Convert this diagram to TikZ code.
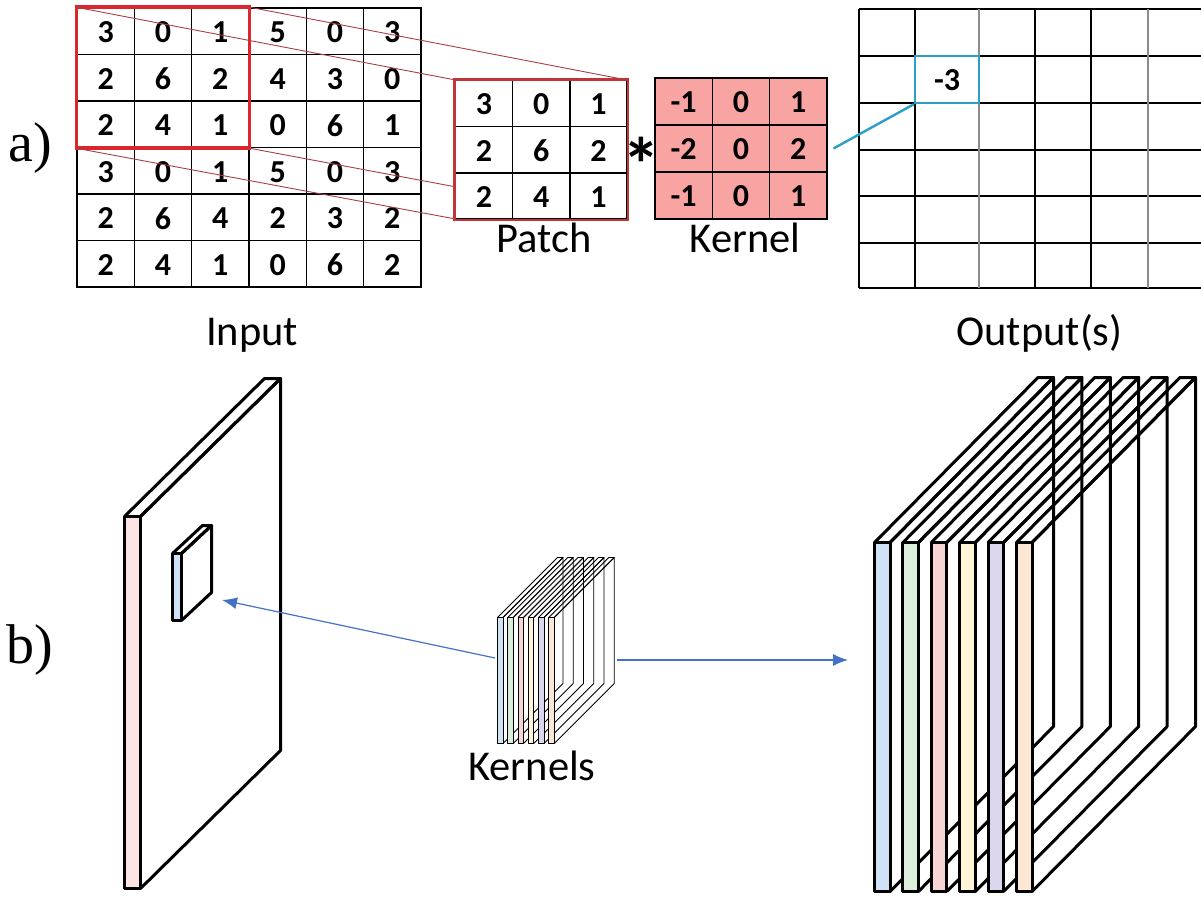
\documentclass[tikz,border=0pt]{standalone}
\usepackage{fontspec}
\setmainfont{Carlito}
\newfontfamily\panelfont{Liberation Serif}
\usetikzlibrary{arrows.meta}

\definecolor{boxred}{RGB}{218,38,44}
\definecolor{patchred}{RGB}{192,52,58}
\definecolor{projred}{RGB}{168,62,72}
\definecolor{kernfill}{RGB}{248,164,162}
\definecolor{resblue}{RGB}{44,158,200}
\definecolor{arrowblue}{RGB}{68,114,196}
\definecolor{gridgray}{RGB}{140,140,140}
\definecolor{inpink}{RGB}{252,228,228}
\definecolor{sblue}{RGB}{208,226,246}
\definecolor{sgreen}{RGB}{221,237,219}
\definecolor{spink}{RGB}{246,213,213}
\definecolor{syellow}{RGB}{255,244,214}
\definecolor{slav}{RGB}{220,215,236}
\definecolor{speach}{RGB}{251,231,211}

% slab: front strip at x #1 (width #4) from y #2 to #3, depth offset (#5,-#6)
\newcommand{\slabdraw}[8]{%
  \draw[line width=#8, line join=round]
    ({#1+#4},{#2}) -- ({#1+#4+#5},{#2-#6}) -- ({#1+#4+#5},{#3-#6}) -- ({#1+#4},{#3});
  \draw[line width=#8, line join=round]
    (#1,#2) -- ({#1+#5},{#2-#6}) -- ({#1+#4+#5},{#2-#6}) -- ({#1+#4},#2);
  \filldraw[fill=#7, line width=#8, line join=round] (#1,#2) rectangle ({#1+#4},#3);
}

\begin{document}
\begin{tikzpicture}[x=1pt,y=-1pt,
  digit/.style={font=\fontsize{32}{36}\selectfont\bfseries, inner sep=0pt, text depth=0pt},
  incell/.style={digit, draw, line width=1.5pt, minimum width=57.33pt, minimum height=46.5pt},
  patchcell/.style={digit, draw, fill=white, line width=1.5pt, minimum width=57.2pt, minimum height=46.4pt},
  kerncell/.style={digit, draw, fill=kernfill, line width=1.2pt, minimum width=57.3pt, minimum height=47pt},
  caption/.style={font=\fontsize{42.5}{50}\selectfont, inner sep=0pt, anchor=base},
  panel/.style={font=\panelfont\fontsize{56}{60}\selectfont, inner sep=0pt, anchor=base},
  proj/.style={draw=projred, line width=0.9pt},
  gridline/.style={line width=1.8pt},
  flow/.style={draw=arrowblue, line width=1.2pt, -{Latex[length=15pt,width=12pt]}}]
\useasboundingbox (0,0) rectangle (1201,901);

% ---- a) input grid ----
\foreach \row [count=\r from 0] in {{3,0,1,5,0,3},{2,6,2,4,3,0},{2,4,1,0,6,1},{3,0,1,5,0,3},{2,6,4,2,3,2},{2,4,1,0,6,2}} {
  \foreach \v [count=\c from 0] in \row {
    \node[incell] (in-\r-\c) at ({77+(\c+0.5)*57.33},{8+(\r+0.5)*46.5}) {\raisebox{-2pt}{\v}};
  }
}
\draw[boxred, line width=3.5pt] (in-0-0.north west) rectangle (in-2-2.south east);

% ---- projection lines to the patch ----
\coordinate (pTL) at (455.5,80);
\coordinate (pTR) at (627,80);
\coordinate (pBL) at (455.5,219);
\coordinate (pBR) at (627,219);
\draw[proj] (in-0-0.north west) -- (pTL);
\draw[proj] (in-0-2.north east) -- (pTR);
\draw[proj] (in-2-0.south west) -- (pBL);
\draw[proj] (in-2-2.south east) -- (pBR);

% ---- patch ----
\foreach \row [count=\r from 0] in {{3,0,1},{2,6,2},{2,4,1}} {
  \foreach \v [count=\c from 0] in \row {
    \node[patchcell] (pa-\r-\c) at ({455.5+(\c+0.5)*57.2},{80+(\r+0.5)*46.4}) {\raisebox{-2pt}{\v}};
  }
}
\draw[patchred, line width=2.6pt] (pa-0-0.north west) rectangle (pa-2-2.south east);

% ---- kernel ----
\foreach \row [count=\r from 0] in {{-1,0,1},{-2,0,2},{-1,0,1}} {
  \foreach \v [count=\c from 0] in \row {
    \node[kerncell] (ke-\r-\c) at ({655+(\c+0.5)*57.3},{78+(\r+0.5)*47}) {\raisebox{-2pt}{\v}};
  }
}
\node[font=\fontsize{76}{80}\selectfont\bfseries, inner sep=0pt, anchor=base] (star) at (641,192) {*};

% ---- output grid ----
\foreach \y in {9,56,103,150,196,243,288} \draw[gridline] (859,\y) -- (1201,\y);
\foreach \x in {859,915,1035,1091} \draw[line width=1.5pt] (\x,9) -- (\x,288);
\foreach \x in {979,1148} \draw[line width=1.5pt, gridgray] (\x,9) -- (\x,288);
\node[digit, draw=resblue, line width=2.6pt, minimum width=64pt, minimum height=47pt] (res) at (947,79.5) {\raisebox{-2pt}{-3}};
\draw[resblue, line width=2.4pt] ([xshift=6pt]ke-1-2.east) -- (res.south west);

% ---- captions ----
\node[caption] (lbl-patch) at (544,253) {Patch};
\node[caption] (lbl-kernel) at (745,253) {Kernel};
\node[caption] (lbl-input) at (252,345) {Input};
\node[caption] (lbl-output) at (1039.5,345) {Output(s)};
\node[caption] (lbl-kernels) at (532,780) {Kernels};
\node[panel] (lbl-a) at (30,162) {a)};
\node[panel] (lbl-b) at (30,663) {b)};

% ---- b) input volume with its receptive box ----
\slabdraw{124.5}{516.5}{888.5}{16}{140}{138}{inpink}{3pt}
\slabdraw{172.5}{553.5}{620.5}{9}{30}{28}{sblue}{3pt}

% ---- kernel stack ----
\foreach \k/\col in {0/sblue,1/sgreen,2/spink,3/syellow,4/slav,5/speach} {
  \pgfmathsetmacro{\sx}{497.5+10.25*\k}
  \slabdraw{\sx}{617.5}{743.5}{5.5}{60}{60}{\col}{0.9pt}
}

% ---- output stack ----
\foreach \k/\col in {0/sblue,1/sgreen,2/spink,3/syellow,4/slav,5/speach} {
  \pgfmathsetmacro{\sx}{874.5+28.4*\k}
  \slabdraw{\sx}{542.5}{891.5}{15.5}{163.5}{165}{\col}{3pt}
}

% ---- connectors ----
\coordinate (kin) at (495,658);
\coordinate (kout) at (617,660);
\coordinate (recv) at (222,600);
\coordinate (outv) at (848,660);
\draw[flow] (kin) -- (recv);
\draw[flow] (kout) -- (outv);
\end{tikzpicture}
\end{document}
